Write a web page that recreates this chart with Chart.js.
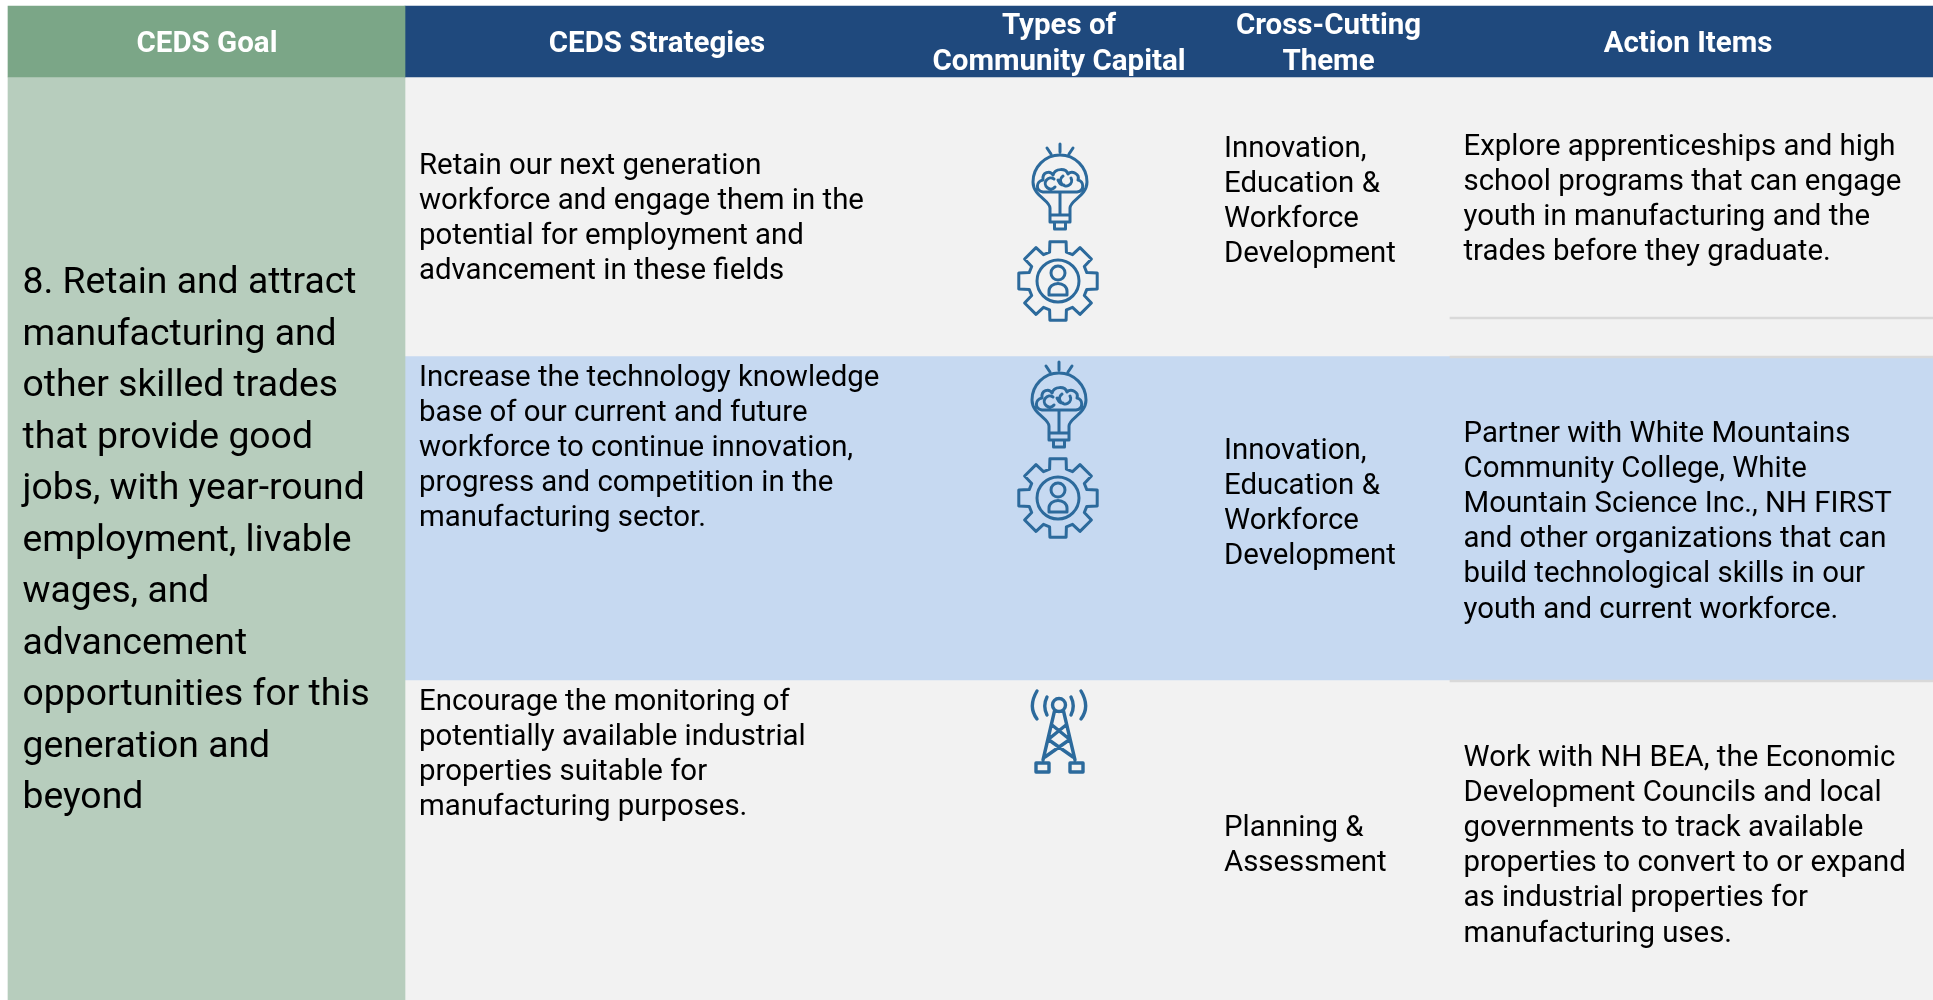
<!DOCTYPE html>
<html><head><meta charset="utf-8"><title>CEDS Goal 8</title>
<style>html,body{margin:0;padding:0;background:#fff;overflow:hidden}canvas{display:block}</style>
<script src="https://cdn.jsdelivr.net/npm/chart.js@4/dist/chart.umd.min.js"></script></head>
<body><canvas id="c" width="1933" height="1000"></canvas>
<script>
// ---- table content ----
const headers = [["CEDS Goal"],["CEDS Strategies"],["Types of","Community Capital"],["Cross-Cutting","Theme"],["Action Items"]];
const goalLines = ["8. Retain and attract","manufacturing and","other skilled trades","that provide good","jobs, with year-round","employment, livable","wages, and","advancement","opportunities for this","generation and","beyond"];
const strategies = [
 ["Retain our next generation","workforce and engage them in the","potential for employment and","advancement in these fields"],
 ["Increase the technology knowledge","base of our current and future","workforce to continue innovation,","progress and competition in the","manufacturing sector."],
 ["Encourage the monitoring of","potentially available industrial","properties suitable for","manufacturing purposes."]];
const themes = [
 ["Innovation,","Education &","Workforce","Development"],
 ["Innovation,","Education &","Workforce","Development"],
 ["Planning &","Assessment"]];
const actions = [
 ["Explore apprenticeships and high","school programs that can engage","youth in manufacturing and the","trades before they graduate."],
 ["Partner with White Mountains","Community College, White","Mountain Science Inc., NH FIRST","and other organizations that can","build technological skills in our","youth and current workforce."],
 ["Work with NH BEA, the Economic","Development Councils and local","governments to track available","properties to convert to or expand","as industrial properties for","manufacturing uses."]];
const capitalIcons = [["bulb","gear"],["bulb","gear"],["tower"]];

// ---- layout (table grid on a pixel-valued scale); earlier datasets paint on top ----
const C = {green:"#7BA687",greenL:"#B7CDBD",navy:"#1F497D",grey:"#F2F2F2",blue:"#C6D9F1",rule:"#D9D9D9",icon:"#2C6A9C"};
const bands = [
 {x:[1450,1933],y:[317,319],c:C.rule},{x:[1450,1933],y:[356,358],c:C.rule},{x:[1450,1933],y:[680,682],c:C.rule},
 {x:[8,405],y:[6,77],c:C.green},{x:[405,1933],y:[6,77],c:C.navy},
 {x:[8,405],y:[77,1000],c:C.greenL},
 {x:[405,1933],y:[77,356],c:C.grey},{x:[405,1933],y:[356,680],c:C.blue},{x:[405,1933],y:[680,1000],c:C.grey}];
const headerCx = [207,657,1059,1328.5,1688];
const stratBase = [174,386,710], themeBase = [157,459,836], actBase = [155,442,766];
const iconPos = [[[1060,182],[1058,281]],[[1059,400],[1058,498]],[[1059,705]]];

const gearPath = (()=>{let d="";const n=8,R=40,r=30,a=Math.PI/n;
 for(let i=0;i<n;i++){const t=i*2*a-Math.PI/2;const pts=[[r,-a*.72],[R,-a*.52],[R,a*.52],[r,a*.72]];
  pts.forEach(([q,o],k)=>{d+=(i==0&&k==0?"M":"L")+(q*Math.cos(t+o)).toFixed(1)+" "+(q*Math.sin(t+o)).toFixed(1)});}
 return d+"Z"+"M21 0A21 21 0 1 1 -21 0A21 21 0 1 1 21 0Z"+"M7 -8A7 7 0 1 1 -7 -8A7 7 0 1 1 7 -8Z"+"M-9 14V10A9 7.5 0 0 1 9 10V14Z";})();
const iconShapes = {
 bulb:"M-10 26C-10 18 -27 14 -27 0A27 27 0 0 1 27 0C27 14 10 18 10 26V40H-10Z M-10 33H10 M-5.5 40V47H5.5V40 M0 10V33 M0 -38V-30 M-13 -34L-9 -28 M13 -34L9 -28"+
  " M-17 10C-25 9 -24 -1 -17 -2C-18 -10 -10 -12 -7 -7C-5 -14 6 -14 8 -8C12 -12 20 -8 18 -2C24 -1 25 9 17 10Z M-6 -3A5.5 5.5 0 1 0 -5 5 M-2 -2C0 2 1 3 4 3 M11 -4A5.5 5.5 0 1 1 3 -6",
 gear:gearPath,
 tower:"M6.5 0A6.5 6.5 0 1 1 -6.5 0A6.5 6.5 0 1 1 6.5 0Z M-4.5 6L-16 55 M4.5 6L16 55 M-7 20L9 33 M7 20L-9 33 M-10 35L14 52 M10 35L-14 52"+
  " M-12 -8C-15 -2 -15 4 -12 10 M12 -8C15 -2 15 4 12 10 M-22 -14C-28 -4 -28 6 -22 14 M22 -14C28 -4 28 6 22 14 M-23 58H-10V67H-23Z M11 58H24V67H11Z"
};

const tablePlugin = {id:"tableText",afterDatasetsDraw(ch){
 const g=ch.ctx,X=ch.scales.x,Y=ch.scales.y;
 const block=(lines,x,y,pitch,font,col,align)=>{g.font=font;g.fillStyle=col;g.textAlign=align||"left";g.textBaseline="alphabetic";
  lines.forEach((s,i)=>g.fillText(s,X.getPixelForValue(x),Y.getPixelForValue(y+i*pitch)));};
 const HF="bold 29.5px Roboto",BF="29.4px Roboto",GF="37.3px Roboto";
 headers.forEach((h,i)=>{const y=h.length==2?34:52;block(h,headerCx[i],y,36,HF,"#fff","center");});
 block(goalLines,22.5,293,51.5,GF,"#000");
 [0,1,2].forEach(r=>{
  block(strategies[r],419,stratBase[r],35.1,BF,"#000");
  block(themes[r],1224,themeBase[r],35,BF,"#000");
  block(actions[r],1463.5,actBase[r],35.1,BF,"#000");
  capitalIcons[r].forEach((name,k)=>{const [ix,iy]=iconPos[r][k];
   g.save();g.translate(X.getPixelForValue(ix),Y.getPixelForValue(iy));
   g.strokeStyle=C.icon;g.lineWidth=name=="tower"?3.4:3;g.lineJoin="round";g.lineCap="round";
   g.stroke(new Path2D(iconShapes[name]));g.restore();});
 });
}};

new Chart(document.getElementById("c"),{
 type:"bar",
 data:{datasets:bands.map(b=>({data:[{x:b.x,y:(b.y[0]+b.y[1])/2}],backgroundColor:b.c,borderWidth:0,barThickness:b.y[1]-b.y[0],grouped:false}))},
 options:{indexAxis:"y",responsive:false,animation:false,layout:{padding:0},
  scales:{x:{type:"linear",min:0,max:1933,display:false,offset:false},y:{type:"linear",min:0,max:1000,reverse:true,display:false,offset:false}},
  plugins:{legend:{display:false},tooltip:{enabled:false}}},
 plugins:[tablePlugin]});
</script></body></html>
